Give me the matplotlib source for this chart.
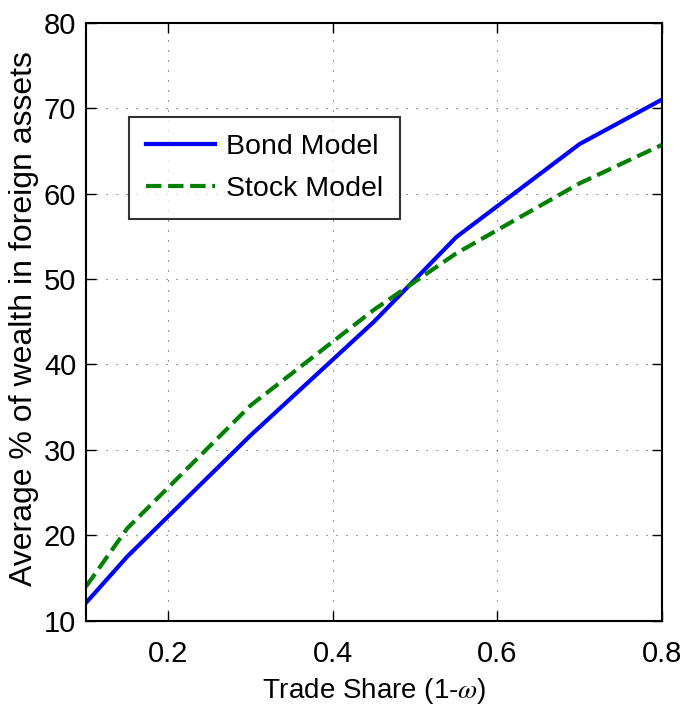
import matplotlib
matplotlib.use("Agg")
import matplotlib.pyplot as plt

# Data
trade_share = [0.10, 0.15, 0.30, 0.45, 0.55, 0.70, 0.80]
bond_model = [12.1, 17.5, 31.7, 45.0, 54.9, 65.8, 71.0]
stock_model = [14.0, 20.8, 35.2, 46.4, 53.0, 61.2, 65.7]

plt.rcParams["font.family"] = ["Liberation Sans", "DejaVu Sans"]
plt.rcParams["mathtext.fontset"] = "stix"

fig = plt.figure(figsize=(6.83, 7.11), dpi=100)
ax = fig.add_axes([0.126, 0.127, 0.843, 0.841])

ax.plot(trade_share, bond_model, color="#0000ff", lw=3, label="Bond Model")
ax.plot(trade_share, stock_model, color="#008000", lw=3, ls="--", label="Stock Model")

ax.set_xlim(0.1, 0.8)
ax.set_ylim(10, 80)
ax.set_xticks([0.2, 0.4, 0.6, 0.8])
ax.set_yticks(range(10, 81, 10))
ax.grid(True, ls=(0, (1, 8)), color="0.3", lw=0.8)
ax.tick_params(direction="in", length=7, width=1, top=True, right=True,
               labelsize=21)
ax.tick_params(axis="x", pad=14)
ax.tick_params(axis="y", pad=7)
for s in ax.spines.values():
    s.set_linewidth(1.5)

ax.set_xlabel(r"Trade Share (1-$\omega$)", fontsize=20, va="center")
ax.xaxis.set_label_coords(0.5, -0.118)
ax.set_ylabel("Average % of wealth in foreign assets", fontsize=23, va="center")
ax.yaxis.set_label_coords(-0.108, 0.505)

leg = ax.legend(loc="upper left", bbox_to_anchor=(0.075, 0.842), fontsize=20.5,
                frameon=True, fancybox=False, edgecolor="black",
                handlelength=2.4, borderpad=0.6, labelspacing=0.55,
                handletextpad=0.4, borderaxespad=0)
leg.get_frame().set_linewidth(1.5)

fig.savefig("out.png", dpi=100)
